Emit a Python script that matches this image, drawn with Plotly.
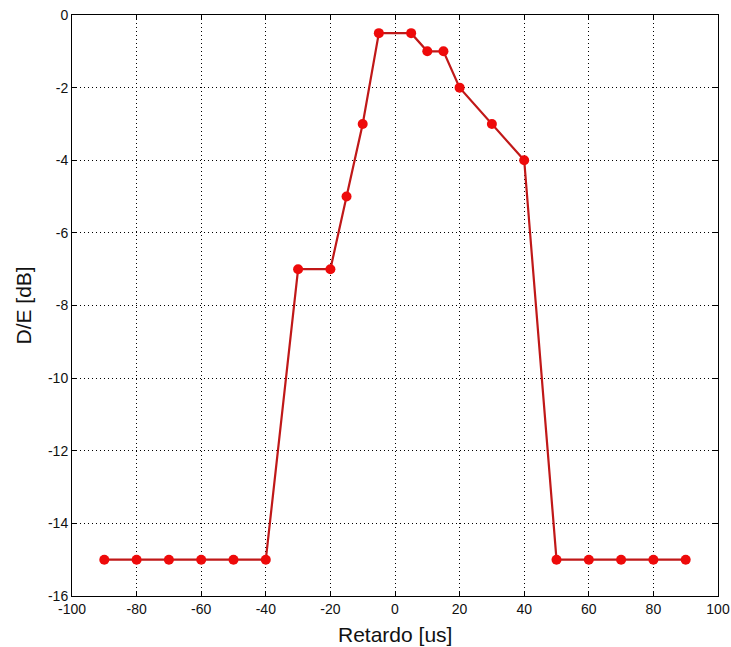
import plotly.graph_objects as go

# Delay (us) versus D/E ratio (dB)
retardo_us = [-90, -80, -70, -60, -50, -40, -30, -20, -15, -10, -5, 5, 10, 15, 20, 30, 40,
              50, 60, 70, 80, 90]
de_db = [-15, -15, -15, -15, -15, -15, -7, -7, -5, -3, -0.5, -0.5, -1, -1, -2, -3, -4,
         -15, -15, -15, -15, -15]

x_ticks = [-100, -80, -60, -40, -20, 0, 20, 40, 60, 80, 100]
x_labels = ["-100", "-80", "-60", "-40", "-20", "0", "20", "40", "60", "80", "100"]
y_ticks = [0, -2, -4, -6, -8, -10, -12, -14, -16]
y_labels = ["0", "-2", "-4", "-6", "-8", "-10", "-12", "-14", "-16"]

FONT = "Liberation Sans, Arial, sans-serif"

fig = go.Figure()
fig.add_trace(go.Scatter(
    x=retardo_us, y=de_db, mode="lines+markers",
    line=dict(color="#c01818", width=2.2),
    marker=dict(color="#ee0a0a", size=10, line=dict(width=0)),
    showlegend=False,
))

axis_common = dict(
    showline=True, linecolor="black", linewidth=1, mirror="ticks",
    ticks="inside", ticklen=5, tickcolor="black", tickwidth=1,
    showgrid=True, gridcolor="black", gridwidth=1, griddash="1px,3px",
    zeroline=False, automargin=False,
    tickfont=dict(family=FONT, size=14, color="#111"),
)

fig.update_xaxes(range=[-100, 100], tickvals=x_ticks, ticktext=x_labels, **axis_common)
fig.update_yaxes(range=[-16, 0], tickvals=y_ticks, ticktext=y_labels, **axis_common)

# Axis titles
fig.add_annotation(text="Retardo [us]", xref="paper", yref="paper", x=0.5, y=0,
                   yanchor="middle", yshift=-38, showarrow=False,
                   font=dict(family=FONT, size=21, color="#111"))
fig.add_annotation(text="D/E [dB]", xref="paper", yref="paper", x=0, y=0.5,
                   xanchor="center", xshift=-49, textangle=-90, showarrow=False,
                   font=dict(family=FONT, size=21, color="#111"))

fig.update_layout(
    width=731, height=647,
    margin=dict(l=72, r=13, t=15, b=51),
    paper_bgcolor="white", plot_bgcolor="white",
)

fig.write_html("out.html")
